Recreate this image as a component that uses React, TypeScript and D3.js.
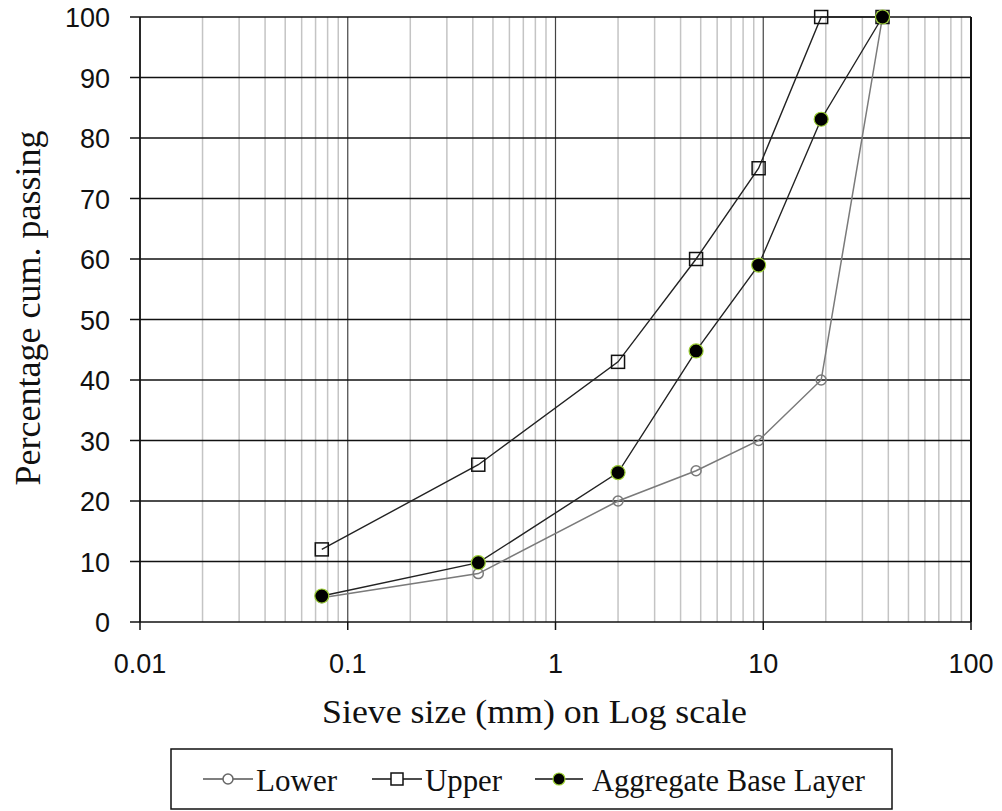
import React from "react";
import * as d3 from "d3";

// Sieve sizes (mm) and cumulative percentage passing for each grading curve
const sieveSizes = [0.075, 0.425, 2, 4.75, 9.5, 19, 37.5];
const lowerLimit = [4, 8, 20, 25, 30, 40, 100];
const upperLimit = [12, 26, 43, 60, 75, 100, 100];
const aggregateBase = [4.3, 9.8, 24.7, 44.8, 59, 83.1, 100];

const xTickValues = [0.01, 0.1, 1, 10, 100];
const xTickLabels = ["0.01", "0.1", "1", "10", "100"];
const yTickValues = [0, 10, 20, 30, 40, 50, 60, 70, 80, 90, 100];

const W = 1002;
const H = 811;
const left = 140;
const right = 971;
const top = 17;
const bottom = 622;

const serif = "'Liberation Serif', 'Times New Roman', serif";
const sans = "'Liberation Sans', Arial, sans-serif";
const greenEdge = "#9acd32";

export default function App() {
  const x = d3.scaleLog().domain([0.01, 100]).range([left, right]);
  const y = d3.scaleLinear().domain([0, 100]).range([bottom, top]);

  const allTicks = x.ticks();
  const isDecade = (v: number) => Math.abs(Math.log10(v) - Math.round(Math.log10(v))) < 1e-9;
  const minorTicks = allTicks.filter((v) => !isDecade(v));
  const majorTicks = allTicks.filter((v) => isDecade(v) && v > 0.01 && v < 100);

  const line = d3
    .line<[number, number]>()
    .x((d) => x(d[0]))
    .y((d) => y(d[1]));

  const pts = (vals: number[]) => sieveSizes.map((s, i) => [s, vals[i]] as [number, number]);

  const legendY = 779;

  return (
    <div style={{ position: "absolute", left: 0, top: 0 }}>
      <svg width={W} height={H} style={{ display: "block", background: "#fff" }}>
        <rect x={0} y={0} width={W} height={H} fill="#fff" />

        {/* minor vertical gridlines */}
        {minorTicks.map((v) => (
          <line key={"mn" + v} x1={x(v)} x2={x(v)} y1={top} y2={bottom} stroke="#c4c4c4" strokeWidth={1.5} />
        ))}
        {/* decade gridlines */}
        {majorTicks.map((v) => (
          <line key={"mj" + v} x1={x(v)} x2={x(v)} y1={top} y2={bottom} stroke="#444" strokeWidth={1.2} />
        ))}
        {/* horizontal gridlines and y ticks */}
        {yTickValues.map((v) => (
          <line key={"h" + v} x1={left - 10} x2={right} y1={y(v)} y2={y(v)} stroke="#111" strokeWidth={1.5} />
        ))}
        {/* x ticks */}
        {xTickValues.map((v) => (
          <line key={"xt" + v} x1={x(v)} x2={x(v)} y1={bottom} y2={bottom + 8} stroke="#111" strokeWidth={1.5} />
        ))}
        {/* plot frame */}
        <line x1={left} x2={left} y1={top} y2={bottom} stroke="#111" strokeWidth={1.8} />
        <line x1={right} x2={right} y1={top} y2={bottom} stroke="#111" strokeWidth={2} />

        {/* y tick labels */}
        {yTickValues.map((v) => (
          <text key={"yl" + v} x={110} y={y(v) + 10} textAnchor="end" fontFamily={sans} fontSize={27} fill="#111">
            {v}
          </text>
        ))}
        {/* x tick labels */}
        {xTickValues.map((v, i) => (
          <text key={"xl" + v} x={x(v)} y={673} textAnchor="middle" fontFamily={sans} fontSize={27} fill="#111">
            {xTickLabels[i]}
          </text>
        ))}

        {/* series lines */}
        <path d={line(pts(lowerLimit)) || ""} fill="none" stroke="#7a7a7a" strokeWidth={1.5} />
        <path d={line(pts(upperLimit)) || ""} fill="none" stroke="#222" strokeWidth={1.4} />
        <path d={line(pts(aggregateBase)) || ""} fill="none" stroke="#222" strokeWidth={1.4} />

        {/* markers */}
        {pts(lowerLimit).map(([s, v], i) => (
          <circle key={"lo" + i} cx={x(s)} cy={y(v)} r={5} fill="none" stroke="#7a7a7a" strokeWidth={1.5} />
        ))}
        {pts(upperLimit).map(([s, v], i) => (
          <rect key={"up" + i} x={x(s) - 6.5} y={y(v) - 6.5} width={13} height={13} fill="none" stroke="#111" strokeWidth={1.5} />
        ))}
        {pts(aggregateBase).map(([s, v], i) => (
          <circle key={"ag" + i} cx={x(s)} cy={y(v)} r={7} fill="#000" stroke={greenEdge} strokeWidth={1.2} />
        ))}

        {/* axis titles */}
        <text x={534.5} y={723} textAnchor="middle" fontFamily={serif} fontSize={34} fill="#111" textLength={425} lengthAdjust="spacingAndGlyphs">
          Sieve size (mm) on Log scale
        </text>
        <text
          transform="translate(40,308) rotate(-90)"
          textAnchor="middle"
          fontFamily={serif}
          fontSize={35}
          fill="#111"
          textLength={355}
          lengthAdjust="spacingAndGlyphs"
        >
          Percentage cum. passing
        </text>

        {/* legend */}
        <rect x={171} y={749} width={721} height={60} fill="#fff" stroke="#111" strokeWidth={1.5} />
        <line x1={203} x2={253} y1={legendY} y2={legendY} stroke="#555" strokeWidth={1.5} />
        <circle cx={228} cy={legendY} r={5} fill="#fff" stroke="#666" strokeWidth={1.5} />
        <text x={256} y={791} fontFamily={serif} fontSize={31} fill="#111" textLength={81} lengthAdjust="spacingAndGlyphs">
          Lower
        </text>
        <line x1={372} x2={422} y1={legendY} y2={legendY} stroke="#111" strokeWidth={1.5} />
        <rect x={391} y={legendY - 6} width={12} height={12} fill="#fff" stroke="#111" strokeWidth={1.5} />
        <text x={425} y={791} fontFamily={serif} fontSize={31} fill="#111" textLength={77} lengthAdjust="spacingAndGlyphs">
          Upper
        </text>
        <line x1={535} x2={583} y1={legendY} y2={legendY} stroke="#111" strokeWidth={1.5} />
        <circle cx={559} cy={legendY} r={6} fill="#000" stroke={greenEdge} strokeWidth={1.2} />
        <text x={592} y={791} fontFamily={serif} fontSize={31} fill="#111" textLength={273} lengthAdjust="spacingAndGlyphs">
          Aggregate Base Layer
        </text>
      </svg>
    </div>
  );
}
